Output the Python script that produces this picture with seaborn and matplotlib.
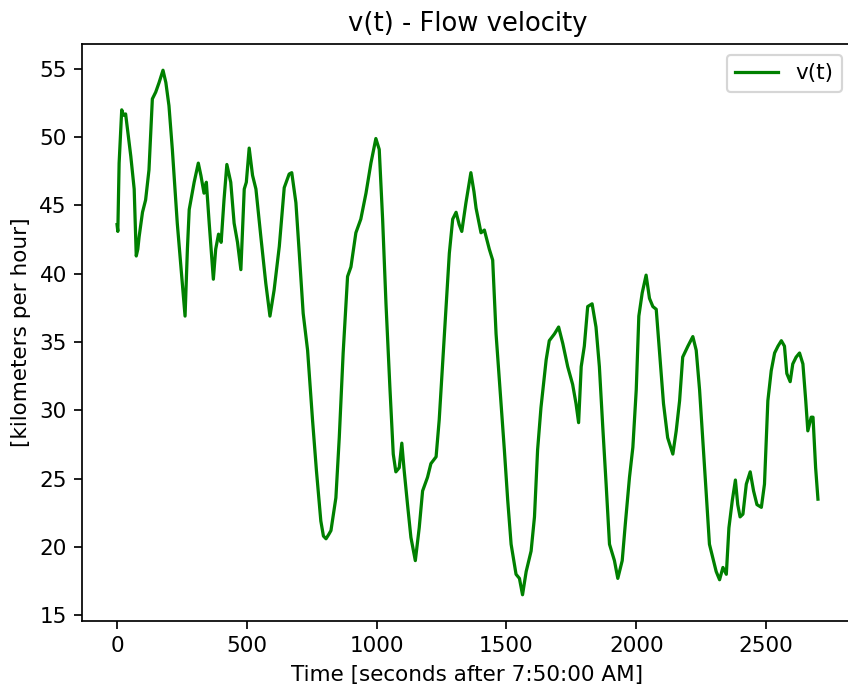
#!/usr/bin/env python3
"""
Plot the flow velocity v(t) measured after 7:50:00 AM.
"""

import pandas as pd
import matplotlib
matplotlib.use("Agg")
import matplotlib.pyplot as plt
import seaborn as sns

# Time in seconds after 7:50:00 AM
time_s = [
    0, 3, 8, 18, 25, 33, 40, 53, 66, 74, 80, 85, 98, 110, 123, 136, 149, 162,
    177, 188, 200, 213, 232, 249, 262, 271, 278, 297, 313, 323, 335, 344, 355,
    371, 380, 391, 401, 412, 423, 438, 451, 464, 477, 490, 498, 509, 522, 535,
    554, 573, 589, 605, 625, 644, 663, 673, 689, 702, 717, 734, 753, 768, 785,
    795, 805, 815, 824, 843, 856, 871, 888, 901, 920, 939, 959, 978, 997, 1010,
    1023, 1036, 1051, 1064, 1074, 1087, 1097, 1106, 1119, 1132, 1149, 1164,
    1177, 1196, 1209, 1229, 1241, 1254, 1267, 1280, 1293, 1306, 1318, 1328,
    1344, 1363, 1375, 1383, 1402, 1415, 1434, 1447, 1460, 1479, 1492, 1505,
    1518, 1537, 1550, 1562, 1576, 1595, 1608, 1620, 1633, 1653, 1665, 1685,
    1701, 1717, 1736, 1755, 1768, 1778, 1788, 1800, 1813, 1830, 1845, 1858,
    1871, 1884, 1897, 1916, 1929, 1946, 1958, 1974, 1987, 2000, 2010, 2023,
    2038, 2051, 2064, 2077, 2089, 2105, 2121, 2141, 2154, 2167, 2179, 2199,
    2218, 2231, 2244, 2256, 2269, 2282, 2295, 2308, 2321, 2334, 2347, 2357,
    2370, 2382, 2391, 2400, 2411, 2424, 2439, 2452, 2465, 2482, 2494, 2507,
    2520, 2533, 2546, 2559, 2571, 2580, 2593, 2603, 2616, 2629, 2642, 2653,
    2661, 2674, 2681, 2691, 2700,
]

# Flow velocity in km/h
velocity_kmh = [
    43.6, 43.1, 48.1, 52.0, 51.6, 51.7, 50.6, 48.6, 46.2, 41.3, 41.8, 42.7,
    44.5, 45.4, 47.6, 52.8, 53.3, 54.0, 54.9, 54.0, 52.3, 49.1, 43.7, 39.8,
    36.9, 41.8, 44.7, 46.7, 48.1, 47.2, 45.9, 46.7, 43.7, 39.6, 41.8, 42.9,
    42.3, 45.4, 48.0, 46.7, 43.7, 42.3, 40.3, 46.2, 46.7, 49.2, 47.2, 46.2,
    42.7, 39.3, 36.9, 38.8, 42.0, 46.3, 47.3, 47.4, 45.2, 41.5, 37.1, 34.4,
    29.3, 25.6, 21.9, 20.8, 20.6, 20.9, 21.2, 23.6, 28.0, 34.2, 39.8, 40.5,
    43.0, 44.0, 45.9, 48.1, 49.9, 49.1, 44.0, 37.8, 31.7, 26.8, 25.5, 25.8,
    27.6, 25.6, 23.1, 20.7, 19.0, 21.4, 24.1, 25.1, 26.1, 26.6, 29.3, 33.4,
    37.6, 41.5, 44.0, 44.5, 43.6, 43.1, 45.2, 47.4, 46.0, 44.8, 43.0, 43.2,
    41.8, 41.0, 35.6, 30.5, 27.1, 23.4, 20.2, 18.0, 17.7, 16.5, 18.2, 19.7,
    22.2, 27.1, 30.2, 33.7, 35.1, 35.6, 36.1, 34.9, 33.2, 31.9, 30.5, 29.1,
    33.2, 34.7, 37.6, 37.8, 36.1, 33.2, 28.8, 24.6, 20.2, 19.0, 17.7, 19.0,
    21.7, 25.1, 27.3, 31.5, 36.9, 38.6, 39.9, 38.2, 37.6, 37.4, 34.4, 30.5,
    28.0, 26.8, 28.5, 30.7, 33.9, 34.7, 35.4, 34.4, 31.5, 28.0, 24.1, 20.2,
    19.2, 18.2, 17.6, 18.5, 18.0, 21.4, 23.4, 24.9, 23.1, 22.2, 22.4, 24.6,
    25.5, 24.1, 23.1, 22.9, 24.6, 30.7, 32.9, 34.2, 34.7, 35.1, 34.7, 32.7,
    32.1, 33.4, 33.9, 34.2, 33.4, 30.7, 28.5, 29.5, 29.5, 25.8, 23.5,
]

DPI = 155


def main():
    df = pd.DataFrame({"t": time_s, "v": velocity_kmh})

    fig = plt.figure(figsize=(848 / DPI, 692 / DPI), dpi=DPI)
    # axes runs slightly past the right edge, like the cropped original
    ax = fig.add_axes([82 / 848, 71 / 692, 771 / 848, 577 / 692])

    sns.lineplot(data=df, x="t", y="v", color="green", label="v(t)",
                 linewidth=1.5, ax=ax)

    ax.set_title("v(t) - Flow velocity")
    ax.set_xlabel("Time [seconds after 7:50:00 AM]")
    ax.set_ylabel("[kilometers per hour]")
    ax.legend(loc="upper right")

    fig.savefig("out.png", dpi=DPI)
    plt.close(fig)


if __name__ == "__main__":
    main()
